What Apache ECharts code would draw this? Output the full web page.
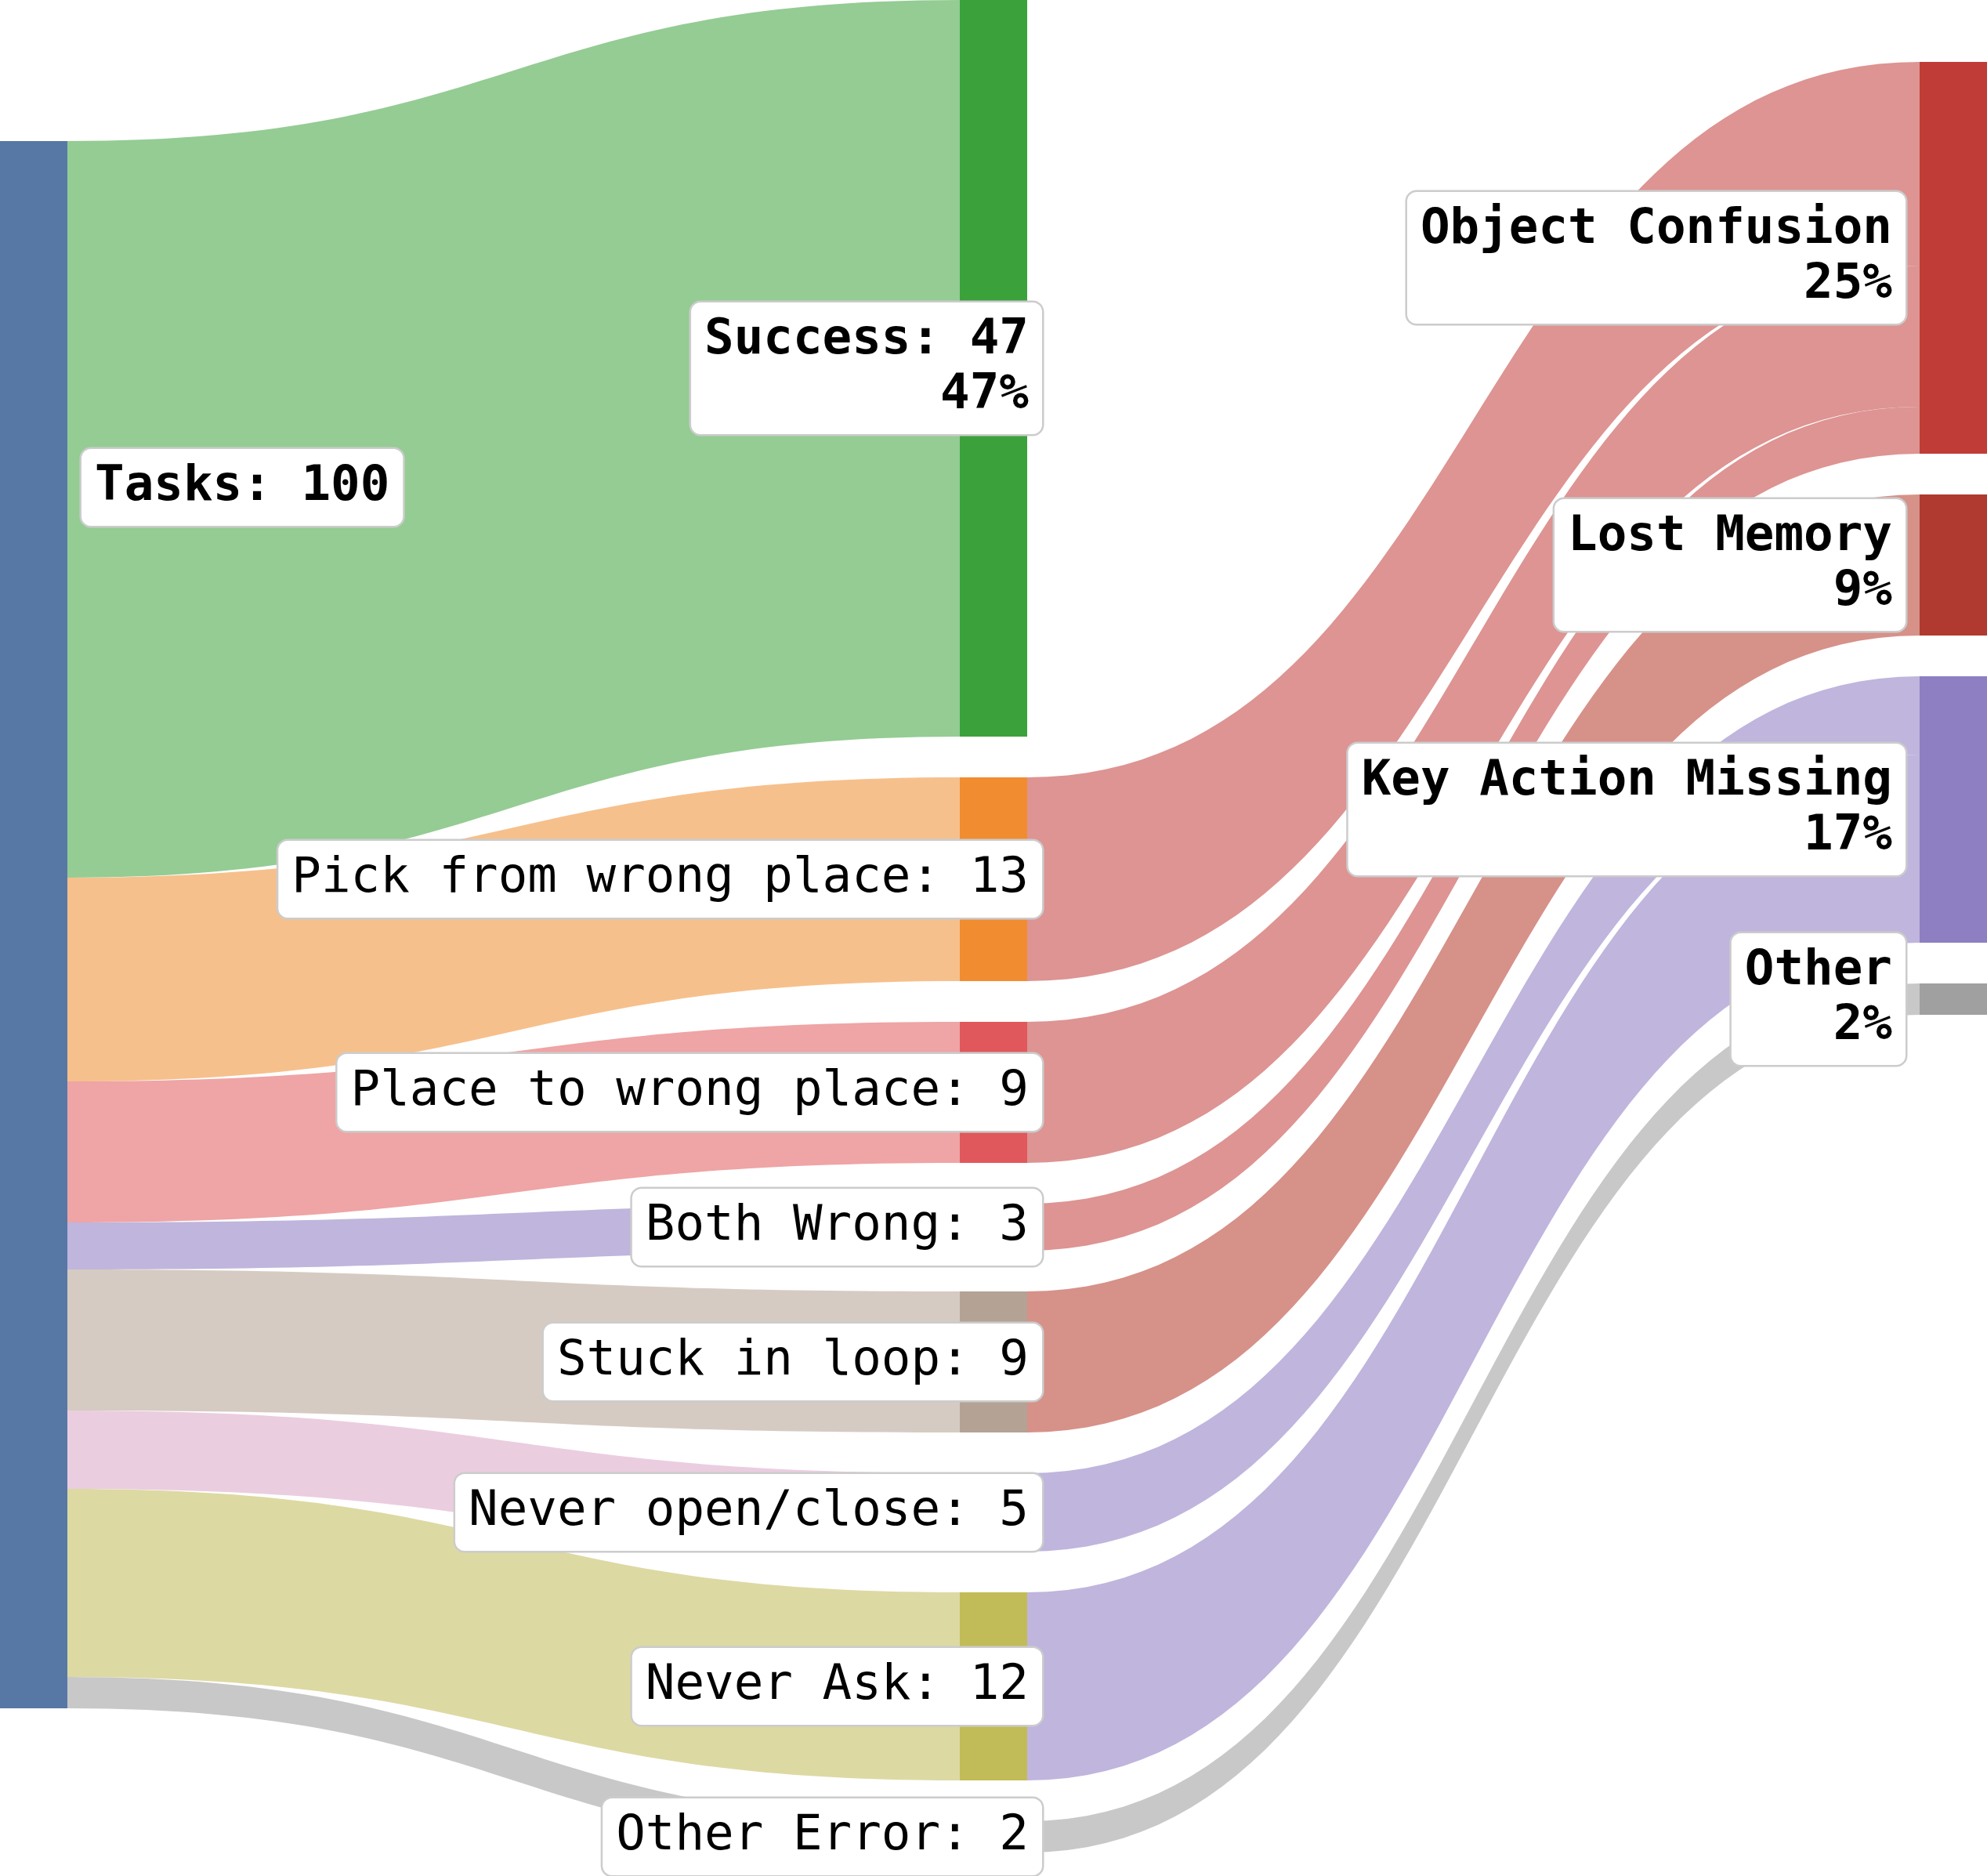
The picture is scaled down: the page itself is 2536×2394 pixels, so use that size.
<!DOCTYPE html>
<html>
<head>
<meta charset="utf-8">
<script src="https://cdn.jsdelivr.net/npm/echarts@6/dist/echarts.min.js"></script>
<style>
  html, body { margin: 0; padding: 0; background: #fff; }
  #sankey { width: 2536px; height: 2394px; }
</style>
</head>
<body>
<div id="sankey"></div>
<script>
// data
const rootName = 'Tasks';
const rootValue = 100;
const outcomeNames = ['Success', 'Pick from wrong place', 'Place to wrong place', 'Both Wrong',
  'Stuck in loop', 'Never open/close', 'Never Ask', 'Other Error'];
const outcomeValues = [47, 13, 9, 3, 9, 5, 12, 2];
const causeNames = ['Object Confusion', 'Lost Memory', 'Key Action Missing', 'Other'];
const flowSources = ['Pick from wrong place', 'Place to wrong place', 'Both Wrong', 'Stuck in loop',
  'Never open/close', 'Never Ask', 'Other Error'];
const flowTargets = ['Object Confusion', 'Object Confusion', 'Object Confusion', 'Lost Memory',
  'Key Action Missing', 'Key Action Missing', 'Other'];
const flowValues = [13, 9, 3, 9, 5, 12, 2];

// styles
const rootColor = '#5778a5';
const outcomeColors = ['#3ba13b', '#f18c30', '#e0585b', '#8d7fc1', '#b4a295', '#e3a5cb', '#c1bc57', '#a0a0a0'];
const outcomeLinkColors = ['#94cc94', '#f6c08c', '#efa4a5', '#c0b5dc', '#d5cbc2', '#ebcde0', '#dcd9a3', '#c8c8c8'];
const causeColors = ['#c03d37', '#b03a30', '#8d7fc1', '#a0a0a0'];
const causeLinkColors = ['#dd9492', '#d69189', '#c0b5dd', '#c8c8c8'];

// layout
const chartHeight = 2364;
const nodeGap = 52;
const rootTop = 180;
const causeTop = 79;
const rootLabelShift = -558;

const sum = (arr) => arr.reduce((a, b) => a + b, 0);
const ky = (chartHeight - (outcomeNames.length - 1) * nodeGap) / sum(outcomeValues);

const causeValues = causeNames.map((c) =>
  sum(flowValues.filter((v, i) => flowTargets[i] === c)));

const nodes = [];
nodes.push({
  name: rootName,
  depth: 0,
  localY: rootTop / chartHeight,
  itemStyle: { color: rootColor },
  label: {
    position: 'right',
    distance: 18,
    offset: [0, rootLabelShift],
    fontWeight: 'bold',
    formatter: rootName + ': ' + rootValue
  }
});
outcomeNames.forEach((name, i) => {
  const first = i === 0;
  nodes.push({
    name: name,
    depth: 1,
    itemStyle: { color: outcomeColors[i] },
    label: {
      position: 'insideRight',
      distance: -19,
      fontWeight: first ? 'bold' : 'normal',
      formatter: first
        ? name + ': ' + outcomeValues[i] + '\n' + Math.round(outcomeValues[i] / rootValue * 100) + '%'
        : name + ': ' + outcomeValues[i]
    }
  });
});
let y = causeTop;
causeNames.forEach((name, i) => {
  nodes.push({
    name: name,
    depth: 2,
    localY: y / chartHeight,
    itemStyle: { color: causeColors[i] },
    label: {
      position: 'left',
      distance: 18,
      fontWeight: 'bold',
      formatter: name + '\n' + Math.round(causeValues[i] / rootValue * 100) + '%'
    }
  });
  y += causeValues[i] * ky + nodeGap;
});

const links = [];
outcomeNames.forEach((name, i) => {
  links.push({
    source: rootName, target: name, value: outcomeValues[i],
    lineStyle: { color: outcomeLinkColors[i] }
  });
});
flowSources.forEach((s, i) => {
  links.push({
    source: s, target: flowTargets[i], value: flowValues[i],
    lineStyle: { color: causeLinkColors[causeNames.indexOf(flowTargets[i])] }
  });
});

const chart = echarts.init(document.getElementById('sankey'));
chart.setOption({
  animation: false,
  series: [{
    type: 'sankey',
    left: 0,
    right: 0,
    top: 0,
    height: chartHeight,
    nodeWidth: 86,
    nodeGap: nodeGap,
    nodeAlign: 'justify',
    layoutIterations: 0,
    draggable: false,
    emphasis: { disabled: true },
    itemStyle: { borderWidth: 0 },
    lineStyle: { curveness: 0.5, opacity: 1 },
    label: {
      fontFamily: 'DejaVu Sans Mono',
      fontSize: 62.5,
      lineHeight: 70,
      color: '#000',
      backgroundColor: '#fff',
      borderColor: '#cccccc',
      borderWidth: 2.5,
      borderRadius: 12,
      padding: [14, 17]
    },
    data: nodes,
    links: links
  }]
});
</script>
</body>
</html>
